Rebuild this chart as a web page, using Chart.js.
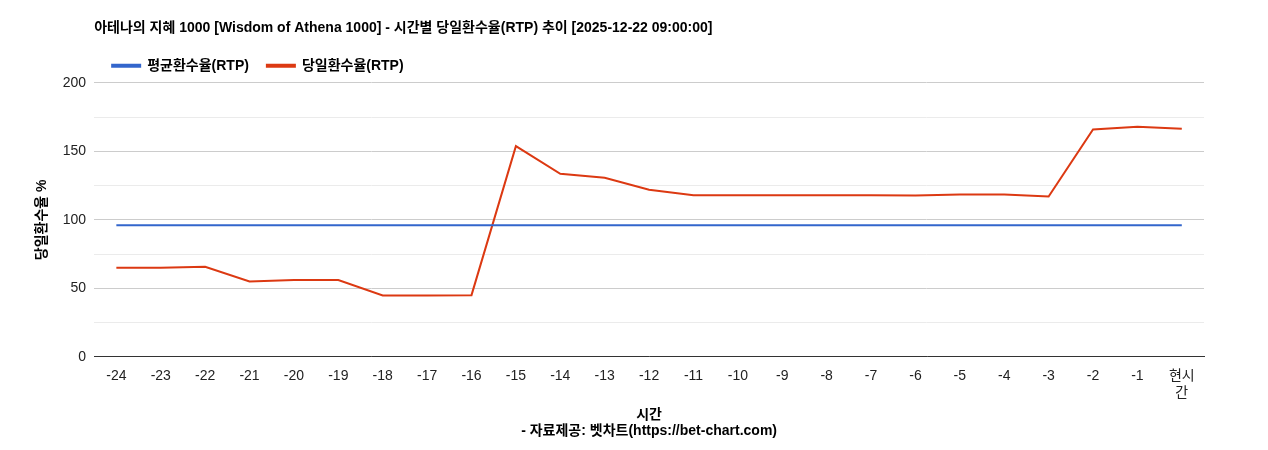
<!DOCTYPE html>
<html>
<head>
<meta charset="utf-8">
<script src="https://cdn.jsdelivr.net/npm/chart.js@4"></script>
<style>
  body { margin: 0; background: #fff; font-family: "Liberation Sans", "Noto Sans CJK KR", sans-serif; }
  #wrap { width: 1268px; height: 450px; position: relative; }
</style>
</head>
<body>
<div id="wrap"><canvas id="c"></canvas></div>
<script>
const labels = ['-24','-23','-22','-21','-20','-19','-18','-17','-16','-15','-14','-13','-12','-11','-10','-9','-8','-7','-6','-5','-4','-3','-2','-1',['현시','간']];
const avgRtp = [96,96,96,96,96,96,96,96,96,96,96,96,96,96,96,96,96,96,96,96,96,96,96,96,96];
const dayRtp = [65,65,65.7,55,56,56,44.8,44.8,45,153.8,133.6,130.7,122,118,118,118,118,118,117.7,118.4,118.4,117,166,168,166.4];
const yTicks = [0,50,100,150,200];

const font = { family: '"Liberation Sans", "Noto Sans CJK KR", sans-serif', size: 14 };

new Chart(document.getElementById('c'), {
  type: 'line',
  data: {
    labels: labels,
    datasets: [
      { label: '평균환수율(RTP)', data: avgRtp, borderColor: '#3366cc', backgroundColor: '#3366cc', borderWidth: 2, pointRadius: 0, tension: 0 },
      { label: '당일환수율(RTP)', data: dayRtp, borderColor: '#dc3912', backgroundColor: '#dc3912', borderWidth: 2, pointRadius: 0, tension: 0 }
    ]
  },
  options: {
    responsive: true,
    maintainAspectRatio: false,
    animation: false,
    layout: { padding: { left: 30, right: 64, top: 12, bottom: 6 } },
    plugins: {
      title: {
        display: true, align: 'start', color: '#000', fullSize: false,
        text: '아테나의 지혜 1000 [Wisdom of Athena 1000] - 시간별 당일환수율(RTP) 추이 [2025-12-22 09:00:00]',
        font: { ...font, size: 14, weight: 'bold' }, padding: { top: 8, bottom: 4 }
      },
      legend: {
        align: 'start', fullSize: false,
        labels: { color: '#000', font: { ...font, weight: 'bold' }, boxWidth: 28, boxHeight: 2, padding: 18 }
      },
      tooltip: { enabled: false }
    },
    scales: {
      x: {
        offset: true,
        grid: { display: false },
        border: { color: '#333' },
        ticks: { color: '#222', font: font, maxRotation: 0, autoSkip: false },
        title: { display: true, text: ['시간', '- 자료제공: 벳차트(https://bet-chart.com)'], color: '#000', font: { ...font, weight: 'bold' }, padding: { top: 2 } }
      },
      y: {
        min: 0, max: 200,
        ticks: { stepSize: 25, color: '#222', font: font, padding: 8, callback: v => yTicks.includes(v) ? v : '' },
        grid: { color: ctx => (ctx.tick && ctx.tick.value % 50 === 0) ? '#cccccc' : '#ebebeb', drawTicks: false },
        border: { display: false },
        title: { display: true, text: '당일환수율 %', color: '#000', font: { ...font, weight: 'bold' } }
      }
    }
  }
});
</script>
</body>
</html>
